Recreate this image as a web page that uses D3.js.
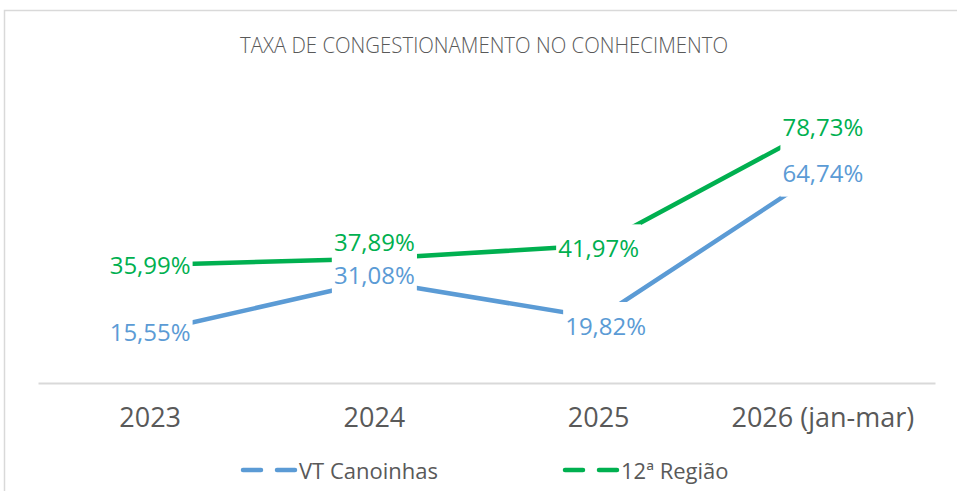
<!DOCTYPE html>
<html>
<head>
<meta charset="utf-8">
<script src="https://cdn.jsdelivr.net/npm/d3@7"></script>
<style>
  body { margin: 0; background: #fff; }
  svg { display: block; }
</style>
</head>
<body>
<div id="chart"></div>
<script>
// dados
var categorias = ["2023", "2024", "2025", "2026 (jan-mar)"];
var vtCanoinhas = [15.55, 31.08, 19.82, 64.74];
var regiao12 = [35.99, 37.89, 41.97, 78.73];
var nomesSeries = ["VT Canoinhas", "12ª Região"];
var cores = ["#5b9bd5", "#00b050"];

var width = 957, height = 491;

var svg = d3.select("#chart").append("svg")
    .attr("width", width)
    .attr("height", height);

// moldura
svg.append("rect")
    .attr("x", 4.5).attr("y", 10.5)
    .attr("width", 1000).attr("height", 600)
    .attr("fill", "#fff")
    .attr("stroke", "#d9d9d9")
    .attr("stroke-width", 1.5);

svg.append("text")
    .attr("x", 484).attr("y", 53)
    .attr("text-anchor", "middle")
    .attr("textLength", 488)
    .attr("lengthAdjust", "spacingAndGlyphs")
    .style("font-family", "Open Sans")
    .style("font-weight", 300)
    .style("font-size", "22px")
    .style("fill", "#595959")
    .text("TAXA DE CONGESTIONAMENTO NO CONHECIMENTO");

var xScale = d3.scaleBand().domain(categorias).range([38, 935]);
var yScale = d3.scaleLinear().domain([0, 100]).range([383, 55]);

// eixo x
var xAxis = d3.axisBottom(xScale).tickSize(0).tickPadding(0);
var gx = svg.append("g")
    .attr("transform", "translate(0,383)")
    .call(xAxis);
gx.select(".domain").attr("stroke", "#d9d9d9").attr("stroke-width", 2);
gx.selectAll(".tick text")
    .attr("y", 44)
    .attr("dy", 0)
    .style("font-family", "Open Sans")
    .style("font-size", "27px")
    .style("fill", "#595959");

var series = [vtCanoinhas, regiao12];
var cx = function(i) { return xScale(categorias[i]) + xScale.bandwidth() / 2; };

var line = d3.line()
    .x(function(d, i) { return cx(i); })
    .y(function(d) { return yScale(d); });

series.forEach(function(s, k) {
    svg.append("path")
        .datum(s)
        .attr("d", line)
        .attr("fill", "none")
        .attr("stroke", cores[k])
        .attr("stroke-width", 4.5);
});

// rotulos de dados (com fundo branco, como no excel)
var fmt = function(v) { return v.toFixed(2).replace(".", ",") + "%"; };
var ajuste = { "37,89%": -16, "31,08%": -6, "19,82%": 8, "41,97%": 3, "78,73%": 3, "64,74%": 3 };

series.forEach(function(s, k) {
    var g = svg.append("g").selectAll("g")
        .data(s).enter().append("g")
        .attr("transform", function(d, i) {
            var lb = fmt(d);
            var dx = lb === "19,82%" ? 7 : 0;
            return "translate(" + (cx(i) + dx) + "," + (yScale(d) + (ajuste[lb] || 0)) + ")";
        });
    g.append("text")
        .attr("text-anchor", "middle")
        .attr("dy", "0.36em")
        .style("font-family", "Open Sans")
        .style("font-size", "24px")
        .style("fill", cores[k])
        .text(fmt);
    g.each(function() {
        var t = d3.select(this).select("text");
        var b = t.node().getBBox();
        d3.select(this).insert("rect", "text")
            .attr("x", b.x - 2).attr("y", -24)
            .attr("width", b.width + 4).attr("height", 47)
            .attr("fill", "#fff");
    });
});

// legenda
var legX = [241, 563];
nomesSeries.forEach(function(n, k) {
    var lg = svg.append("g").attr("transform", "translate(" + legX[k] + ",470)");
    lg.append("line")
        .attr("x1", 2).attr("x2", 55)
        .attr("stroke", cores[k])
        .attr("stroke-width", 4.5)
        .attr("stroke-linecap", "round")
        .attr("stroke-dasharray", "18 16");
    lg.append("text")
        .attr("x", 58).attr("y", 9)
        .style("font-family", "Open Sans")
        .style("font-size", "22px")
        .style("fill", "#595959")
        .text(n);
});
</script>
</body>
</html>
